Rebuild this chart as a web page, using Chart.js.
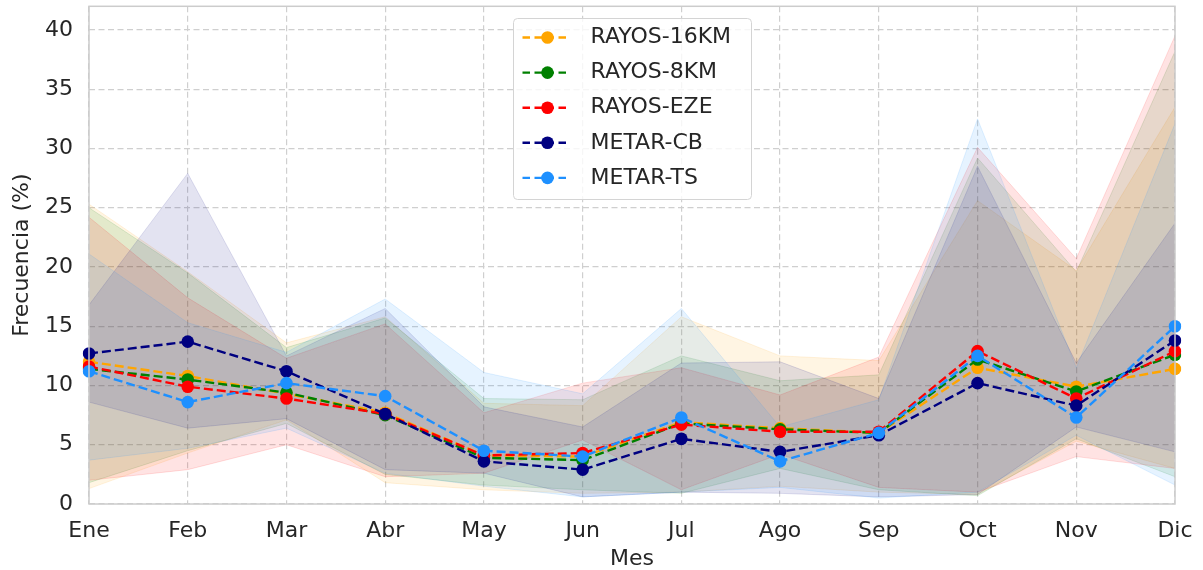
<!DOCTYPE html>
<html lang="es">
<head>
<meta charset="UTF-8" />
<title>Frecuencia mensual por fuente</title>
<script src="https://cdn.jsdelivr.net/npm/chart.js"></script>
<style>
  html, body { margin: 0; padding: 0; background: #ffffff; }
  #contenedor { width: 1203px; height: 570px; }
</style>
</head>
<body>
<div id="contenedor"><canvas id="grafico" width="1203" height="570"></canvas></div>
<script>
const meses = ['Ene', 'Feb', 'Mar', 'Abr', 'May', 'Jun', 'Jul', 'Ago', 'Sep', 'Oct', 'Nov', 'Dic'];
const ticksY = [0, 5, 10, 15, 20, 25, 30, 35, 40];
const nombres = ['RAYOS-16KM', 'RAYOS-8KM', 'RAYOS-EZE', 'METAR-CB', 'METAR-TS'];
const colores = [[255, 165, 0], [0, 128, 0], [255, 0, 0], [0, 0, 128], [30, 144, 255]];

// medias
const rayos16 = [12.0, 10.8, 9.3, 7.7, 4.1, 4.0, 6.9, 6.4, 6.0, 11.5, 9.9, 11.4];
const rayos8  = [11.4, 10.5, 9.4, 7.5, 3.9, 3.7, 6.8, 6.3, 6.0, 12.2, 9.5, 12.6];
const rayosEze = [11.6, 9.9, 8.9, 7.6, 4.1, 4.3, 6.7, 6.1, 6.1, 12.9, 8.9, 12.9];
const metarCb = [12.7, 13.7, 11.2, 7.6, 3.6, 2.9, 5.5, 4.4, 5.8, 10.2, 8.3, 13.8];
const metarTs = [11.2, 8.6, 10.2, 9.1, 4.5, 4.0, 7.3, 3.6, 6.0, 12.5, 7.3, 15.0];

// limites superiores de la banda
const rayos16Max = [25.3, 19.6, 13.6, 15.8, 8.5, 8.3, 15.8, 12.5, 12.1, 25.6, 19.7, 33.5];
const rayos8Max  = [25.0, 19.5, 13.2, 15.7, 8.9, 8.8, 12.5, 10.4, 10.9, 29.2, 19.6, 38.2];
const rayosEzeMax = [24.2, 17.4, 12.3, 15.2, 7.7, 10.2, 11.5, 9.2, 12.4, 30.1, 20.7, 39.5];
const metarCbMax = [16.8, 27.9, 12.5, 16.5, 8.2, 6.5, 11.9, 12.0, 8.9, 28.5, 11.9, 23.7];
const metarTsMax = [21.1, 15.3, 12.8, 17.3, 11.1, 9.3, 16.5, 6.5, 8.8, 32.5, 11.5, 32.1];

// limites inferiores de la banda
const rayos16Min = [1.3, 4.3, 7.1, 1.8, 1.2, 0.9, 1.0, 1.5, 1.0, 0.8, 5.3, 3.0];
const rayos8Min  = [1.8, 4.5, 6.8, 2.5, 1.6, 1.2, 0.9, 3.0, 1.2, 0.7, 5.5, 2.3];
const rayosEzeMin = [2.0, 2.9, 5.0, 2.3, 2.6, 5.4, 1.2, 4.2, 1.4, 1.0, 4.0, 3.0];
const metarCbMin = [8.6, 6.4, 7.2, 2.9, 2.6, 0.6, 1.0, 0.9, 0.6, 0.8, 6.5, 4.4];
const metarTsMin = [3.7, 4.7, 6.4, 2.6, 1.5, 0.6, 1.0, 1.4, 0.5, 1.0, 5.8, 1.6];

const medias = [rayos16, rayos8, rayosEze, metarCb, metarTs];
const maximos = [rayos16Max, rayos8Max, rayosEzeMax, metarCbMax, metarTsMax];
const minimos = [rayos16Min, rayos8Min, rayosEzeMin, metarCbMin, metarTsMin];

const rgba = (c, a) => `rgba(${c[0]}, ${c[1]}, ${c[2]}, ${a})`;
const colorTexto = '#262626';
const colorGrid = '#cfcfcf';
const guion = [9, 4];

Chart.defaults.font.family = "'DejaVu Sans', sans-serif";
Chart.defaults.font.size = 22;
Chart.defaults.color = colorTexto;

// lineas principales (order menor = encima)
const datasets = nombres.map((nombre, i) => ({
  label: nombre,
  data: medias[i],
  borderColor: rgba(colores[i], 1),
  backgroundColor: rgba(colores[i], 1),
  borderWidth: 2.4,
  borderDash: guion,
  pointRadius: 6.3,
  pointHoverRadius: 6.3,
  pointBorderWidth: 0,
  tension: 0,
  fill: false,
  order: 5 - i
}));

// bandas min-max
nombres.forEach((nombre, i) => {
  const idxMin = datasets.length;
  datasets.push({
    label: nombre + ' min',
    data: minimos[i],
    borderColor: rgba(colores[i], 0.13),
    borderWidth: 1,
    pointRadius: 0,
    fill: false,
    tension: 0,
    order: 20 - i
  });
  datasets.push({
    label: nombre + ' max',
    data: maximos[i],
    borderColor: rgba(colores[i], 0.13),
    backgroundColor: rgba(colores[i], 0.11),
    borderWidth: 1,
    pointRadius: 0,
    fill: { target: idxMin },
    tension: 0,
    order: 20 - i
  });
});

const marco = {
  id: 'marco',
  afterDatasetsDraw(chart) {
    const { ctx, chartArea: { left, top, width, height } } = chart;
    ctx.save();
    ctx.strokeStyle = '#cccccc';
    ctx.lineWidth = 1.5;
    ctx.strokeRect(left, top, width, height);
    ctx.restore();
  }
};

const leyenda = {
  id: 'leyenda',
  afterDraw(chart) {
    const { ctx } = chart;
    const x0 = 513.5, y0 = 18.5, ancho = 238, alto = 181;
    ctx.save();
    ctx.beginPath();
    ctx.roundRect(x0, y0, ancho, alto, 4);
    ctx.fillStyle = 'rgba(255, 255, 255, 0.8)';
    ctx.fill();
    ctx.strokeStyle = '#d4d4d4';
    ctx.lineWidth = 1;
    ctx.stroke();

    nombres.forEach((nombre, i) => {
      const y = y0 + 19 + 35.1 * i;
      const c = rgba(colores[i], 1);
      ctx.strokeStyle = c;
      ctx.lineWidth = 2.4;
      ctx.setLineDash([7.5, 4.5]);
      ctx.beginPath();
      ctx.moveTo(x0 + 9, y);
      ctx.lineTo(x0 + 57, y);
      ctx.stroke();
      ctx.setLineDash([]);
      ctx.fillStyle = c;
      ctx.beginPath();
      ctx.arc(x0 + 34, y, 6.3, 0, Math.PI * 2);
      ctx.fill();
      ctx.fillStyle = colorTexto;
      ctx.font = "22px 'DejaVu Sans', sans-serif";
      ctx.textBaseline = 'middle';
      ctx.textAlign = 'left';
      ctx.fillText(nombre, x0 + 77, y);
    });
    ctx.restore();
  }
};

const sinRelleno = (s) => {
  s.paddingTop = 0;
  s.paddingBottom = 0;
  s.paddingLeft = 0;
  s.paddingRight = 0;
};

new Chart(document.getElementById('grafico'), {
  type: 'line',
  data: { labels: meses, datasets },
  options: {
    responsive: false,
    animation: false,
    devicePixelRatio: 1,
    layout: { padding: { top: 5, right: 28, left: 0, bottom: 0 } },
    plugins: {
      legend: { display: false },
      tooltip: { enabled: false }
    },
    scales: {
      x: {
        offset: false,
        grid: { color: colorGrid, lineWidth: 1.2, drawTicks: false },
        border: { display: false, dash: [6, 3.5] },
        ticks: { padding: 14, color: colorTexto, maxRotation: 0 },
        title: {
          display: true,
          text: 'Mes',
          color: colorTexto,
          font: { size: 22, lineHeight: 1 },
          padding: { top: 0, bottom: 0 }
        },
        afterFit: (s) => { s.height = 66; sinRelleno(s); }
      },
      y: {
        min: 0,
        max: 42,
        afterBuildTicks: (s) => { s.ticks = ticksY.map(v => ({ value: v })); },
        grid: { color: colorGrid, lineWidth: 1.2, drawTicks: false },
        border: { display: false, dash: [6, 3.5] },
        ticks: { padding: 16, color: colorTexto },
        title: {
          display: true,
          text: 'Frecuencia (%)',
          color: colorTexto,
          font: { size: 22 },
          padding: { top: 9, bottom: 0 }
        },
        afterFit: (s) => { s.width = 89; sinRelleno(s); }
      }
    }
  },
  plugins: [marco, leyenda]
});
</script>
</body>
</html>
